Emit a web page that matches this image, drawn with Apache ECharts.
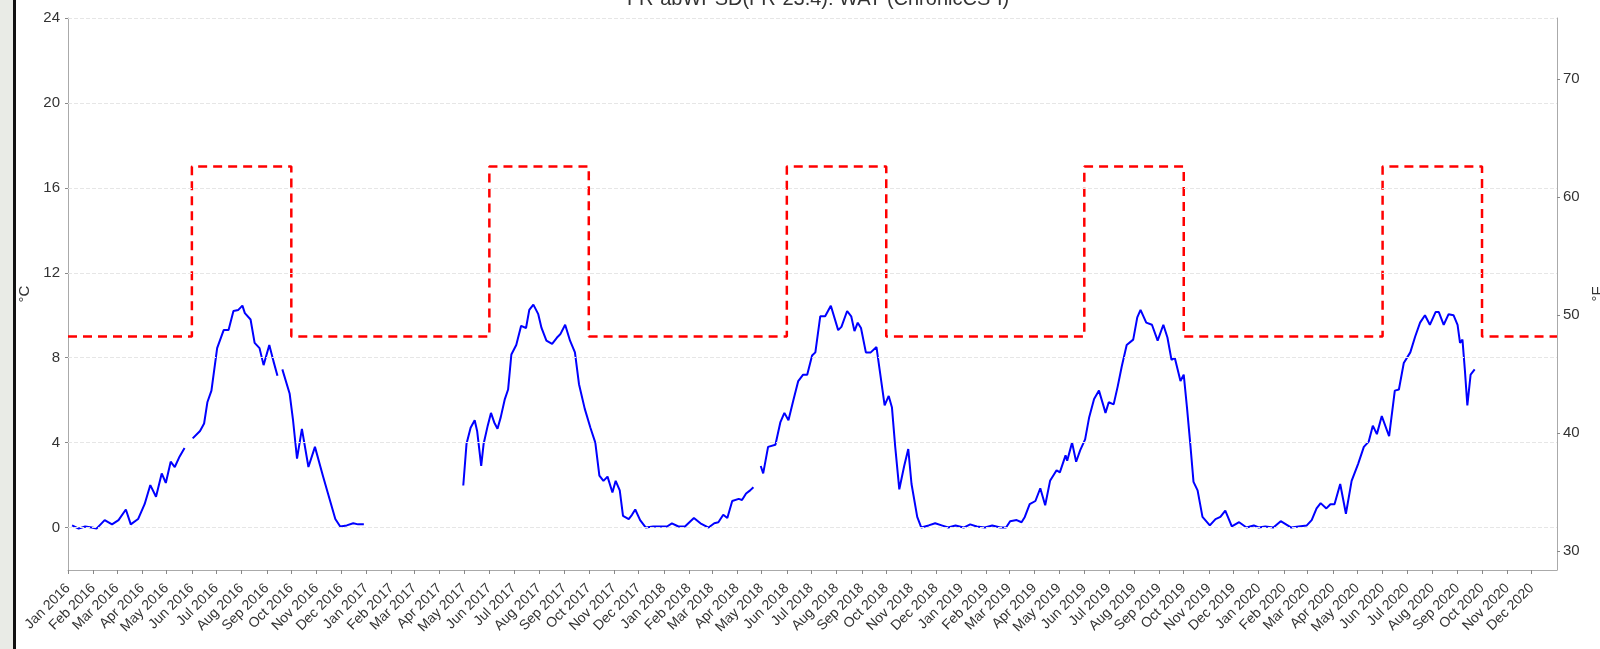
<!DOCTYPE html>
<html>
<head>
<meta charset="utf-8">
<title>WAT</title>
<script src="https://cdn.jsdelivr.net/npm/echarts@6/dist/echarts.min.js"></script>
<style>
  html, body { margin: 0; padding: 0; background: #fff; }
  #chart { width: 1600px; height: 649px; }
</style>
</head>
<body>
<div id="chart"></div>
<script>
// weekly-ish readings of the daily WAT line, degC, split where the record has gaps
var wat2016Spring = [
  ['2016-01-06', 0.1], ['2016-01-14', -0.05], ['2016-01-22', 0.05], ['2016-01-30', 0],
  ['2016-02-05', -0.05], ['2016-02-15', 0.35], ['2016-02-24', 0.15], ['2016-03-03', 0.35],
  ['2016-03-12', 0.85], ['2016-03-18', 0.15], ['2016-03-27', 0.4], ['2016-04-04', 1.1],
  ['2016-04-11', 2.0], ['2016-04-18', 1.45], ['2016-04-25', 2.55], ['2016-04-30', 2.1],
  ['2016-05-06', 3.1], ['2016-05-11', 2.85], ['2016-05-17', 3.35], ['2016-05-23', 3.75]
]
var wat2016Summer = [
  ['2016-06-02', 4.2], ['2016-06-11', 4.55], ['2016-06-16', 4.9], ['2016-06-20', 5.9],
  ['2016-06-25', 6.45], ['2016-07-02', 8.45], ['2016-07-10', 9.3], ['2016-07-16', 9.3],
  ['2016-07-22', 10.2], ['2016-07-28', 10.25], ['2016-08-02', 10.45], ['2016-08-05', 10.1],
  ['2016-08-12', 9.8], ['2016-08-17', 8.7], ['2016-08-23', 8.45], ['2016-08-28', 7.65],
  ['2016-09-04', 8.6], ['2016-09-09', 7.85], ['2016-09-14', 7.15]
]
var wat2016Fall = [
  ['2016-09-20', 7.45], ['2016-09-29', 6.3], ['2016-10-03', 5.1], ['2016-10-08', 3.25],
  ['2016-10-14', 4.65], ['2016-10-22', 2.85], ['2016-10-30', 3.8], ['2016-11-09', 2.4],
  ['2016-11-15', 1.6], ['2016-11-24', 0.4], ['2016-11-30', 0.05], ['2016-12-08', 0.1],
  ['2016-12-16', 0.2], ['2016-12-22', 0.15], ['2016-12-29', 0.15]
]
var wat2017 = [
  ['2017-04-30', 1.98], ['2017-05-04', 3.95], ['2017-05-09', 4.7], ['2017-05-14', 5.05],
  ['2017-05-17', 4.55], ['2017-05-22', 2.9], ['2017-05-25', 3.95], ['2017-05-30', 4.8],
  ['2017-06-03', 5.4], ['2017-06-07', 4.95], ['2017-06-11', 4.65], ['2017-06-15', 5.2],
  ['2017-06-20', 6.05], ['2017-06-24', 6.5], ['2017-06-28', 8.15], ['2017-07-04', 8.6],
  ['2017-07-10', 9.5], ['2017-07-16', 9.4], ['2017-07-20', 10.25], ['2017-07-25', 10.5],
  ['2017-07-31', 10.05], ['2017-08-04', 9.4], ['2017-08-10', 8.8], ['2017-08-17', 8.65],
  ['2017-08-23', 8.95], ['2017-08-27', 9.1], ['2017-09-02', 9.55], ['2017-09-08', 8.8],
  ['2017-09-14', 8.25], ['2017-09-19', 6.75], ['2017-09-26', 5.6], ['2017-10-03', 4.7],
  ['2017-10-09', 4.0], ['2017-10-14', 2.45], ['2017-10-19', 2.2], ['2017-10-24', 2.4],
  ['2017-10-30', 1.65], ['2017-11-03', 2.2], ['2017-11-08', 1.75], ['2017-11-12', 0.55],
  ['2017-11-19', 0.4], ['2017-11-23', 0.6], ['2017-11-27', 0.85], ['2017-12-03', 0.35],
  ['2017-12-10', 0], ['2017-12-19', 0.05], ['2017-12-27', 0.05], ['2018-01-05', 0.05],
  ['2018-01-11', 0.2], ['2018-01-19', 0.05], ['2018-01-27', 0.05], ['2018-02-07', 0.45],
  ['2018-02-15', 0.2], ['2018-02-25', 0], ['2018-03-04', 0.2], ['2018-03-09', 0.25],
  ['2018-03-15', 0.6], ['2018-03-20', 0.45], ['2018-03-26', 1.25], ['2018-04-03', 1.35],
  ['2018-04-07', 1.3], ['2018-04-12', 1.6], ['2018-04-17', 1.75], ['2018-04-21', 1.9]
]
var wat2018to2020 = [
  ['2018-04-30', 2.9], ['2018-05-03', 2.55], ['2018-05-09', 3.8], ['2018-05-18', 3.9],
  ['2018-05-24', 4.95], ['2018-05-29', 5.4], ['2018-06-03', 5.05], ['2018-06-09', 6.0],
  ['2018-06-15', 6.9], ['2018-06-21', 7.2], ['2018-06-26', 7.2], ['2018-07-02', 8.1],
  ['2018-07-06', 8.25], ['2018-07-12', 9.95], ['2018-07-18', 9.95], ['2018-07-25', 10.45],
  ['2018-08-03', 9.3], ['2018-08-07', 9.45], ['2018-08-14', 10.2], ['2018-08-19', 9.95],
  ['2018-08-23', 9.25], ['2018-08-27', 9.65], ['2018-08-31', 9.4], ['2018-09-06', 8.25],
  ['2018-09-12', 8.25], ['2018-09-19', 8.5], ['2018-09-23', 7.4], ['2018-09-29', 5.75],
  ['2018-10-04', 6.2], ['2018-10-08', 5.65], ['2018-10-12', 3.8], ['2018-10-17', 1.8],
  ['2018-10-23', 2.9], ['2018-10-28', 3.7], ['2018-11-01', 2.05], ['2018-11-08', 0.5],
  ['2018-11-13', 0], ['2018-11-22', 0.1], ['2018-11-30', 0.2], ['2018-12-08', 0.1],
  ['2018-12-16', 0], ['2018-12-25', 0.1], ['2019-01-04', 0], ['2019-01-12', 0.15],
  ['2019-01-20', 0.05], ['2019-01-30', 0], ['2019-02-08', 0.1], ['2019-02-18', 0],
  ['2019-02-25', 0], ['2019-03-02', 0.3], ['2019-03-10', 0.35], ['2019-03-16', 0.25],
  ['2019-03-20', 0.5], ['2019-03-26', 1.1], ['2019-04-02', 1.25], ['2019-04-08', 1.85],
  ['2019-04-14', 1.05], ['2019-04-20', 2.2], ['2019-04-28', 2.7], ['2019-05-02', 2.6],
  ['2019-05-09', 3.4], ['2019-05-11', 3.15], ['2019-05-17', 4.0], ['2019-05-22', 3.1],
  ['2019-05-27', 3.65], ['2019-06-02', 4.15], ['2019-06-07', 5.2], ['2019-06-13', 6.05],
  ['2019-06-19', 6.45], ['2019-06-24', 5.8], ['2019-06-27', 5.4], ['2019-07-01', 5.9],
  ['2019-07-07', 5.8], ['2019-07-12', 6.65], ['2019-07-17', 7.6], ['2019-07-23', 8.6],
  ['2019-07-31', 8.85], ['2019-08-05', 9.9], ['2019-08-09', 10.25], ['2019-08-16', 9.65],
  ['2019-08-23', 9.55], ['2019-08-30', 8.8], ['2019-09-06', 9.55], ['2019-09-11', 8.95],
  ['2019-09-16', 7.9], ['2019-09-20', 8.0], ['2019-09-27', 6.9], ['2019-10-01', 7.2],
  ['2019-10-05', 5.65], ['2019-10-09', 3.95], ['2019-10-13', 2.15], ['2019-10-18', 1.75],
  ['2019-10-24', 0.5], ['2019-11-02', 0.1], ['2019-11-09', 0.4], ['2019-11-15', 0.5],
  ['2019-11-21', 0.8], ['2019-11-29', 0.05], ['2019-12-08', 0.25], ['2019-12-17', 0],
  ['2019-12-26', 0.1], ['2020-01-01', 0], ['2020-01-09', 0.05], ['2020-01-19', 0],
  ['2020-01-28', 0.3], ['2020-02-10', 0], ['2020-02-19', 0.05], ['2020-02-29', 0.1],
  ['2020-03-06', 0.35], ['2020-03-12', 0.9], ['2020-03-17', 1.15], ['2020-03-24', 0.9],
  ['2020-03-29', 1.1], ['2020-04-03', 1.1], ['2020-04-10', 2.05], ['2020-04-17', 0.65],
  ['2020-04-24', 2.2], ['2020-05-02', 3.0], ['2020-05-09', 3.8], ['2020-05-15', 4.05],
  ['2020-05-20', 4.8], ['2020-05-25', 4.4], ['2020-05-31', 5.25], ['2020-06-09', 4.3],
  ['2020-06-16', 6.45], ['2020-06-21', 6.5], ['2020-06-27', 7.75], ['2020-07-05', 8.25],
  ['2020-07-11', 9.0], ['2020-07-17', 9.65], ['2020-07-23', 10.0], ['2020-07-29', 9.55],
  ['2020-08-05', 10.15], ['2020-08-09', 10.15], ['2020-08-15', 9.55], ['2020-08-21', 10.05],
  ['2020-08-27', 10.0], ['2020-09-01', 9.55], ['2020-09-04', 8.7], ['2020-09-07', 8.85],
  ['2020-09-10', 7.4], ['2020-09-13', 5.75], ['2020-09-17', 7.2], ['2020-09-22', 7.45]
]

// chronic criterion: 9 degC most of the year, 17 degC Jun-Sep
var criterionDates = ['2016-01-01', '2016-06-01', '2016-10-01', '2017-06-01', '2017-10-01',
  '2018-06-01', '2018-10-01', '2019-06-01', '2019-10-01', '2020-06-01', '2020-10-01', '2021-01-01']
var criterionValues = [9, 17, 9, 17, 9, 17, 9, 17, 9, 17, 9, 9]

var yTicksC = [0, 4, 8, 12, 16, 20, 24]
var yTicksF = [30, 40, 50, 60, 70]
var tickYears = [2016, 2017, 2018, 2019, 2020]
var monthNames = ['Jan', 'Feb', 'Mar', 'Apr', 'May', 'Jun', 'Jul', 'Aug', 'Sep', 'Oct', 'Nov', 'Dec']

function toTime(s) {
  var p = s.split('-')
  return new Date(+p[0], +p[1] - 1, +p[2]).getTime()
}

var monthTicks = []
tickYears.forEach(function (y) {
  for (var m = 0; m < 12; m++) {
    monthTicks.push(new Date(y, m, 1).getTime())
  }
})

var FONT = 'Liberation Sans, Arial, sans-serif'
var TEXT = '#333333'

var criterionData = criterionDates.map(function (d, i) { return [toTime(d), criterionValues[i]] })

function watSeries(data) {
  return {
    type: 'line',
    data: data.map(function (p) { return [toTime(p[0]), p[1]] }),
    showSymbol: false,
    symbol: 'none',
    z: 3,
    lineStyle: { color: '#0000ff', width: 2 }
  }
}

var chart = echarts.init(document.getElementById('chart'), null, { renderer: 'canvas' })

var option = {
  animation: false,
  backgroundColor: '#ffffff',
  textStyle: { fontFamily: FONT },
  title: {
    text: 'FR-abWPSD(FR-23.4): WAT (ChronicCS-I)',
    left: 813,
    textAlign: 'center',
    top: -16,
    textStyle: { fontSize: 20, fontWeight: 'normal', color: TEXT, fontFamily: FONT }
  },
  graphic: [
    { type: 'rect', left: 0, top: 0, shape: { width: 13, height: 649 }, style: { fill: '#e9ebe6' } },
    { type: 'rect', left: 13, top: 0, shape: { width: 3, height: 649 }, style: { fill: '#111111' } }
  ],
  grid: { left: 68, right: 43, top: 18, bottom: 79, outerBoundsMode: 'none', containLabel: false },
  xAxis: {
    type: 'value',
    min: toTime('2016-01-01'),
    max: toTime('2021-01-01'),
    axisLine: { onZero: false, lineStyle: { color: '#aaaaaa', width: 1 } },
    axisTick: { show: true, length: 4, customValues: monthTicks, lineStyle: { color: '#888888' } },
    axisLabel: {
      customValues: monthTicks,
      rotate: 45,
      margin: 16,
      fontSize: 14,
      color: TEXT,
      fontFamily: FONT,
      formatter: function (v) {
        var d = new Date(v)
        return monthNames[d.getMonth()] + ' ' + d.getFullYear()
      }
    },
    splitLine: { show: false }
  },
  yAxis: [
    {
      type: 'value',
      position: 'left',
      min: -2,
      max: 24,
      name: '°C',
      nameLocation: 'middle',
      nameGap: 31,
      nameRotate: 90,
      nameTextStyle: { fontSize: 15, color: TEXT, fontFamily: FONT },
      axisLine: { show: true, lineStyle: { color: '#aaaaaa' } },
      axisTick: { show: true, length: 3, customValues: yTicksC, lineStyle: { color: '#888888' } },
      axisLabel: { customValues: yTicksC, fontSize: 15, color: TEXT, margin: 8, fontFamily: FONT },
      splitLine: { show: false }
    },
    {
      type: 'value',
      position: 'right',
      min: -2 * 1.8 + 32,
      max: 24 * 1.8 + 32,
      name: '°F',
      nameLocation: 'middle',
      nameGap: 25,
      nameRotate: 90,
      nameTextStyle: { fontSize: 15, color: TEXT, fontFamily: FONT },
      axisLine: { show: true, lineStyle: { color: '#aaaaaa' } },
      axisTick: { show: true, length: 3, customValues: yTicksF, lineStyle: { color: '#888888' } },
      axisLabel: { customValues: yTicksF, fontSize: 15, color: TEXT, margin: 6, fontFamily: FONT },
      splitLine: { show: false }
    }
  ],
  series: [
    {
      name: 'criterion',
      type: 'line',
      step: 'end',
      data: criterionData,
      symbol: 'none',
      z: 4,
      lineStyle: { color: '#ff0000', width: 2.5, type: [9, 6] },
      markLine: {
        silent: true,
        symbol: 'none',
        label: { show: false },
        lineStyle: { color: '#e6e6e6', type: 'dashed', width: 1 },
        data: yTicksC.map(function (v) { return { yAxis: v } })
      }
    },
    watSeries(wat2016Spring),
    watSeries(wat2016Summer),
    watSeries(wat2016Fall),
    watSeries(wat2017),
    watSeries(wat2018to2020)
  ]
}

chart.setOption(option)
</script>
</body>
</html>
